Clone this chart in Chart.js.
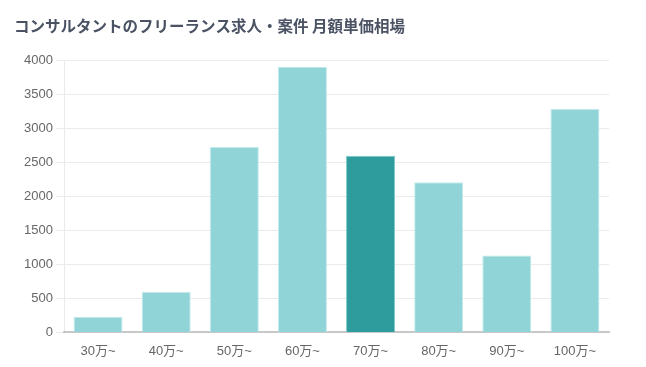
<!DOCTYPE html>
<html><head><meta charset="utf-8">
<script src="https://cdn.jsdelivr.net/npm/chart.js@4/dist/chart.umd.min.js"></script>
<style>html,body{margin:0;padding:0;background:#fff;}canvas{display:block;}</style>
</head><body>
<canvas id="c" width="646" height="367"></canvas>
<script>
const titleText = 'コンサルタントのフリーランス求人・案件 月額単価相場';
const categories = ['30万~','40万~','50万~','60万~','70万~','80万~','90万~','100万~'];
const counts = [230, 600, 2730, 3910, 2600, 2210, 1130, 3290];
const highlightIndex = 4;
const yMax = 4000;
const yStep = 500;

const light = '#90d4d8', dark = '#2e9b9c';
const colors = categories.map((c,i)=> i===highlightIndex ? dark : light);
const borders = categories.map((c,i)=> i===highlightIndex ? '#7cc8c9' : '#c6ebed');

new Chart(document.getElementById('c'), {
  type: 'bar',
  data: { labels: categories, datasets: [{ data: counts, backgroundColor: colors, borderColor: borders, borderWidth: 1 }] },
  options: {
    responsive: false, animation: false,
    layout: { padding: { left: 14, right: 37, top: 6, bottom: 5 } },
    plugins: {
      legend: { display: false },
      tooltip: { enabled: false },
      title: { display: true, text: titleText, align: 'start', color: '#4a5263',
        font: { family: '"Noto Sans CJK JP", sans-serif', size: 15.5, weight: 'bold' },
        padding: { top: 11, bottom: 25 } }
    },
    scales: {
      x: { grid: { display: false }, border: { color: '#c8c8c8', width: 2 },
           ticks: { color: '#666', font: { family: 'Arial, "Liberation Sans", "Noto Sans CJK JP"', size: 13 }, padding: 3 } },
      y: { min: 0, max: yMax,
           afterFit: (s) => { s.width = 50; },
           ticks: { stepSize: yStep, color: '#666', font: { family: 'Arial, "Liberation Sans"', size: 13 },
                    callback: (v) => String(v) },
           grid: { color: 'rgba(0,0,0,0.08)' }, border: { color: 'rgba(0,0,0,0.08)' } }
    }
  }
});
</script>
</body></html>
